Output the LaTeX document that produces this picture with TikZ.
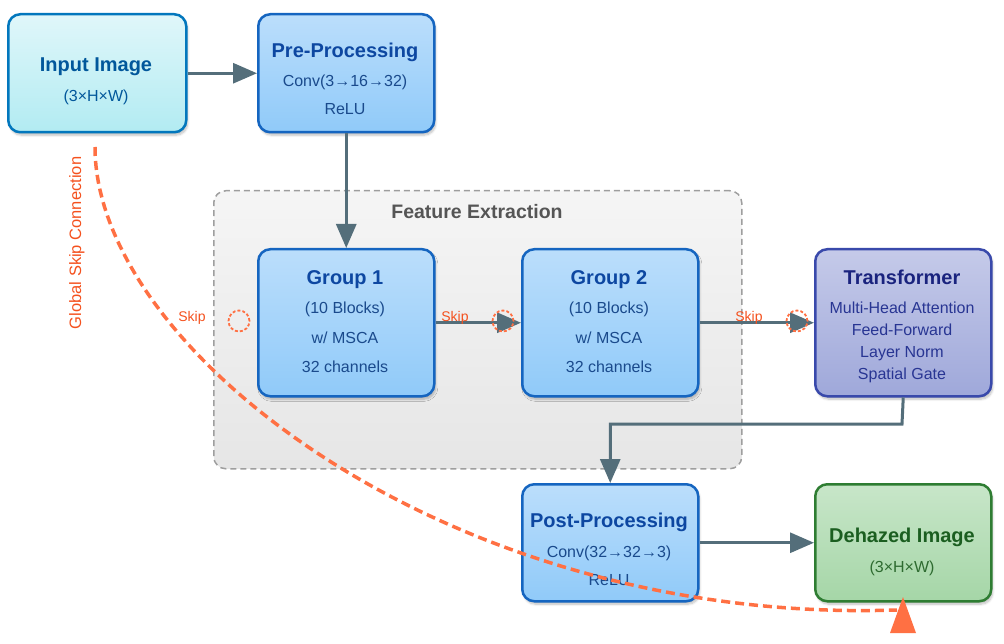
\documentclass[tikz,border=0pt]{standalone}
\usepackage{fontspec}
\setmainfont{Liberation Sans}
\usetikzlibrary{arrows.meta,shadows.blur}
\definecolor{arrowc}{HTML}{546E7A}
\definecolor{skipc}{HTML}{FF7043}
\definecolor{skiptxt}{HTML}{F4511E}
\definecolor{inpfillA}{HTML}{E0F7FA}
\definecolor{inpfillB}{HTML}{B2EBF2}
\definecolor{inpborder}{HTML}{0277BD}
\definecolor{inptxt}{HTML}{01579B}
\definecolor{bluefillA}{HTML}{BBDEFB}
\definecolor{bluefillB}{HTML}{90CAF9}
\definecolor{blueborder}{HTML}{1565C0}
\definecolor{bluetitle}{HTML}{0D47A1}
\definecolor{bluetxt}{HTML}{1A4A8C}
\definecolor{trfillA}{HTML}{C5CAE9}
\definecolor{trfillB}{HTML}{9FA8DA}
\definecolor{trborder}{HTML}{3949AB}
\definecolor{trtitle}{HTML}{1A237E}
\definecolor{trtxt}{HTML}{283593}
\definecolor{grfillA}{HTML}{C8E6C9}
\definecolor{grfillB}{HTML}{A5D6A7}
\definecolor{grborder}{HTML}{2E7D32}
\definecolor{grtitle}{HTML}{1B5E20}
\definecolor{grtxt}{HTML}{2E6B30}
\definecolor{contfillA}{HTML}{F5F5F5}
\definecolor{contfillB}{HTML}{E6E6E6}
\definecolor{contborder}{HTML}{9E9E9E}
\definecolor{conttitle}{HTML}{555555}
\begin{document}
\begin{tikzpicture}[x=1pt,y=-1pt,
  box/.style={draw, line width=2.5pt, rounded corners=12pt, anchor=north west,
    inner sep=0pt, minimum width=176pt,
    blur shadow={shadow xshift=1.5pt, shadow yshift=-3pt, shadow blur steps=6, shadow opacity=25}},
  inpbox/.style={box, draw=inpborder, top color=inpfillA, bottom color=inpfillB},
  bluebox/.style={box, draw=blueborder, top color=bluefillA, bottom color=bluefillB},
  trbox/.style={box, draw=trborder, top color=trfillA, bottom color=trfillB},
  grbox/.style={box, draw=grborder, top color=grfillA, bottom color=grfillB},
  container/.style={draw=contborder, line width=1.5pt, dash pattern=on 6pt off 4pt,
    rounded corners=12pt, anchor=north west, inner sep=0pt,
    top color=contfillA, bottom color=contfillB},
  title/.style={anchor=base, inner sep=0pt, font=\fontsize{20}{24}\selectfont\bfseries},
  body/.style={anchor=base, inner sep=0pt, font=\fontsize{16}{19}\selectfont},
  flow/.style={draw=arrowc, line width=3pt, -{Triangle[length=24pt,width=20pt]}},
  skipcirc/.style={circle, draw=skipc, line width=1.8pt, dash pattern=on 3pt off 2pt,
    minimum size=21pt, inner sep=0pt},
  skiplabel/.style={anchor=base, inner sep=0pt, text=skiptxt, font=\fontsize{14}{16}\selectfont},
  gskip/.style={draw=skipc, line width=3.5pt, dash pattern=on 9pt off 5pt},
]
\useasboundingbox (0,0) rectangle (1004,644);

% container
\node[container, minimum width=528pt, minimum height=278pt] (fe) at (213,190) {};
\node[title, text=conttitle, font=\fontsize{19.5}{23}\selectfont\bfseries] (fetitle) at (477,219) {Feature Extraction};

% boxes
\node[inpbox, minimum width=178pt, minimum height=118pt] (inp) at (7,13) {};
\node[bluebox, minimum height=118pt] (pre) at (257,13) {};
\node[bluebox, minimum height=147pt] (g1) at (257,248) {};
\node[bluebox, minimum height=147pt] (g2) at (521,248) {};
\node[trbox, minimum height=147pt] (tr) at (814,248) {};
\node[bluebox, minimum height=117pt] (post) at (521,483) {};
\node[grbox, minimum height=117pt] (deh) at (814,483) {};

% texts
\node[title, text=inptxt] (inpt) at (96,72) {Input Image};
\node[body, text=inptxt] (inpb) at (96,102) {(3×H×W)};

\node[title, text=bluetitle] (pret) at (345,58) {Pre-Processing};
\node[body, text=bluetxt] (preb1) at (345,87) {Conv(3→16→32)};
\node[body, text=bluetxt] (preb2) at (345,115) {ReLU};

\node[title, text=bluetitle] (g1t) at (345,285) {Group 1};
\node[body, text=bluetxt] (g1b1) at (345,314) {(10 Blocks)};
\node[body, text=bluetxt] (g1b2) at (345,343) {w/ MSCA};
\node[body, text=bluetxt] (g1b3) at (345,372) {32 channels};

\node[title, text=bluetitle] (g2t) at (609,285) {Group 2};
\node[body, text=bluetxt] (g2b1) at (609,314) {(10 Blocks)};
\node[body, text=bluetxt] (g2b2) at (609,343) {w/ MSCA};
\node[body, text=bluetxt] (g2b3) at (609,372) {32 channels};

\node[title, text=trtitle] (trt) at (902,285) {Transformer};
\node[body, text=trtxt] (trb1) at (902,313) {Multi-Head Attention};
\node[body, text=trtxt] (trb2) at (902,336) {Feed-Forward};
\node[body, text=trtxt] (trb3) at (902,357) {Layer Norm};
\node[body, text=trtxt] (trb4) at (902,379) {Spatial Gate};

\node[title, text=bluetitle] (postt) at (609,527) {Post-Processing};
\node[body, text=bluetxt] (postb1) at (609,557) {Conv(32→32→3)};
\node[body, text=bluetxt] (postb2) at (609,585) {ReLU};

\node[title, text=grtitle] (deht) at (902,542) {Dehazed Image};
\node[body, text=grtxt] (dehb) at (902,572) {(3×H×W)};

% arrows
\draw[flow] (inp.east) -- (pre.west);
\draw[flow] (pre.south) -- (g1.north);
\draw[flow] (g1.east) -- (g2.west);
\draw[flow] (g2.east) -- (tr.west);
\coordinate (bend) at (902,424);
\draw[flow] (tr.south) -- (bend) -| (post.north);
\draw[flow] (post.east) -- (deh.west);

% skip markers
\node[skipcirc] (c1) at (239,321) {};
\node[skipcirc] (c2) at (503,321) {};
\node[skipcirc] (c3) at (797,321) {};
\node[skiplabel] (s1) at (192,322) {Skip};
\node[skiplabel] (s2) at (455,322) {Skip};
\node[skiplabel] (s3) at (749,322) {Skip};

% global skip
\node[anchor=base, inner sep=0pt, rotate=90, text=skiptxt, font=\fontsize{16.5}{19}\selectfont] (gsl) at (81,243) {Global Skip Connection};
\coordinate (gs0) at (95,147);
\coordinate (gs1) at (897,610);
\draw[gskip] (gs0) .. controls (95,350) and (450,625) .. (gs1);
\fill[skipc] (903,597) -- (916,633) -- (890,633) -- cycle;
\end{tikzpicture}
\end{document}
